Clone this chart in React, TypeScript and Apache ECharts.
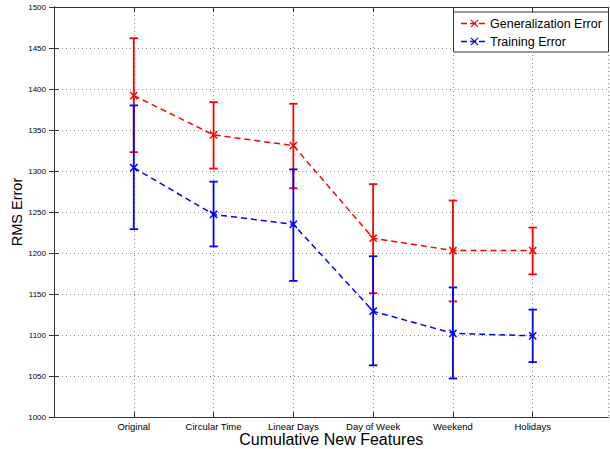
import React, { useEffect, useRef } from "react";
import * as echarts from "echarts";

const categories = ["Original", "Circular Time", "Linear Days", "Day of Week", "Weekend", "Holidays"];
const genMean = [1392, 1344, 1331, 1218, 1203, 1203];
const genUpper = [1462, 1384, 1382, 1284, 1264, 1231];
const genLower = [1323, 1303, 1279, 1151, 1141, 1174];
const trainMean = [1304, 1247, 1235, 1129, 1102, 1099];
const trainUpper = [1380, 1287, 1302, 1196, 1158, 1131];
const trainLower = [1229, 1208, 1166, 1063, 1047, 1067];
const seriesNames = ["Generalization Error", "Training Error"];
const RED = "#ff0000";
const BLUE = "#0000ff";
const FONT = "'Liberation Sans', Arial, Helvetica, sans-serif";

function errorBarSeries(name: string, color: string, mean: number[], lo: number[], hi: number[]) {
  const data = mean.map((m, i) => [i + 1, m, lo[i], hi[i]]);
  return {
    type: "custom",
    name,
    xAxisIndex: 0,
    yAxisIndex: 0,
    data,
    z: 3,
    renderItem: (params: any, api: any) => {
      const x = api.value(0);
      const pm = api.coord([x, api.value(1)]);
      const pl = api.coord([x, api.value(2)]);
      const ph = api.coord([x, api.value(3)]);
      const cw = 4.2;
      const mk = 3.6;
      const st = { stroke: color, lineWidth: 1.8, fill: "none" };
      const mst = { stroke: color, lineWidth: 1.5, fill: "none" };
      return {
        type: "group",
        children: [
          { type: "line", shape: { x1: pm[0], y1: ph[1], x2: pm[0], y2: pl[1] }, style: st },
          { type: "line", shape: { x1: pm[0] - cw, y1: ph[1], x2: pm[0] + cw, y2: ph[1] }, style: st },
          { type: "line", shape: { x1: pm[0] - cw, y1: pl[1], x2: pm[0] + cw, y2: pl[1] }, style: st },
          { type: "line", shape: { x1: pm[0] - mk, y1: pm[1] - mk, x2: pm[0] + mk, y2: pm[1] + mk }, style: mst },
          { type: "line", shape: { x1: pm[0] - mk, y1: pm[1] + mk, x2: pm[0] + mk, y2: pm[1] - mk }, style: mst },
        ],
      };
    },
  };
}

function lineSeries(name: string, color: string, mean: number[]) {
  return {
    type: "line",
    name,
    xAxisIndex: 0,
    yAxisIndex: 0,
    data: mean.map((m, i) => [i + 1, m]),
    symbol: "none",
    z: 2,
    lineStyle: { color, width: 1.5, type: [6, 4] },
  };
}

function legendEntry(y: number, color: string, label: string) {
  const mx = 474.5;
  const mk = 3.6;
  return [
    { type: "line", z: 101, shape: { x1: 461, y1: y, x2: 488, y2: y }, style: { stroke: color, lineWidth: 1.5, lineDash: [6, 3] } },
    { type: "line", z: 101, shape: { x1: mx - mk, y1: y - mk, x2: mx + mk, y2: y + mk }, style: { stroke: color, lineWidth: 1.2 } },
    { type: "line", z: 101, shape: { x1: mx - mk, y1: y + mk, x2: mx + mk, y2: y - mk }, style: { stroke: color, lineWidth: 1.2 } },
    { type: "text", z: 101, x: 490, y, style: { text: label, fill: "#000", font: `12.5px ${FONT}`, verticalAlign: "middle", align: "left" } },
  ];
}

export default function App() {
  const ref = useRef<HTMLDivElement>(null);
  useEffect(() => {
    if (!ref.current) return;
    const chart = echarts.init(ref.current, null, { renderer: "svg" });
    const axisColor = "#333";
    const gridLine = { show: true, lineStyle: { color: "#888", width: 1, type: [1, 3] as any } };
    chart.setOption({
      animation: false,
      backgroundColor: "#fff",
      textStyle: { fontFamily: FONT },
      grid: { left: 54, top: 7, right: 1.5, bottom: 32, containLabel: false, outerBoundsMode: "none" },
      xAxis: [
        {
          type: "value",
          min: 0,
          max: 6.95,
          interval: 1,
          position: "bottom",
          axisLine: { show: true, lineStyle: { color: axisColor, width: 1 } },
          axisTick: { show: true, inside: true, length: 5, lineStyle: { color: axisColor } },
          axisLabel: {
            color: "#000",
            fontSize: 9.5,
            margin: 4,
            fontFamily: FONT,
            showMaxLabel: false,
            formatter: (v: number) => {
              const r = Math.round(v);
              return Math.abs(v - r) < 1e-6 && r >= 1 && r <= categories.length ? categories[r - 1] : "";
            },
          },
          splitLine: gridLine,
          name: "Cumulative New Features",
          nameLocation: "middle",
          nameGap: 22.8,
          nameMoveOverlap: false,
          nameTextStyle: { color: "#000", fontSize: 16, fontFamily: FONT, verticalAlign: "middle", lineHeight: 14 },
        },
        {
          type: "value",
          min: 0,
          max: 6.95,
          interval: 1,
          position: "top",
          axisLine: { show: true, lineStyle: { color: axisColor, width: 1 } },
          axisTick: { show: true, inside: true, length: 5, lineStyle: { color: axisColor } },
          axisLabel: { show: false },
          splitLine: { show: false },
        },
      ],
      yAxis: [
        {
          type: "value",
          min: 1000,
          max: 1500,
          interval: 50,
          position: "left",
          axisLine: { show: true, lineStyle: { color: axisColor, width: 1 } },
          axisTick: { show: true, inside: true, length: 5, lineStyle: { color: axisColor } },
          axisLabel: { color: "#000", fontSize: 8, margin: 8, fontFamily: FONT, formatter: (v: number) => String(v) },
          splitLine: gridLine,
          name: "RMS Error",
          nameLocation: "middle",
          nameGap: 37,
          nameMoveOverlap: false,
          nameTextStyle: { color: "#000", fontSize: 14.5, fontFamily: FONT, verticalAlign: "middle", lineHeight: 15 },
        },
        {
          type: "value",
          min: 1000,
          max: 1500,
          interval: 50,
          position: "right",
          axisLine: { show: true, lineStyle: { color: axisColor, width: 1 } },
          axisTick: { show: true, inside: true, length: 5, lineStyle: { color: axisColor } },
          axisLabel: { show: false },
          splitLine: { show: false },
        },
      ],
      series: [
        lineSeries(seriesNames[0], RED, genMean),
        errorBarSeries(seriesNames[0] + " bars", RED, genMean, genLower, genUpper),
        lineSeries(seriesNames[1], BLUE, trainMean),
        errorBarSeries(seriesNames[1] + " bars", BLUE, trainMean, trainLower, trainUpper),
      ],
      graphic: [
        { type: "rect", z: 100, shape: { x: 453.5, y: 12, width: 155, height: 40 }, style: { fill: "#fff", stroke: "#333", lineWidth: 1 } },
        ...legendEntry(23.5, RED, seriesNames[0]),
        ...legendEntry(41.5, BLUE, seriesNames[1]),
      ],
    });
    return () => chart.dispose();
  }, []);
  return <div ref={ref} style={{ width: 610, height: 449, position: "absolute", left: 0, top: 0 }} />;
}
